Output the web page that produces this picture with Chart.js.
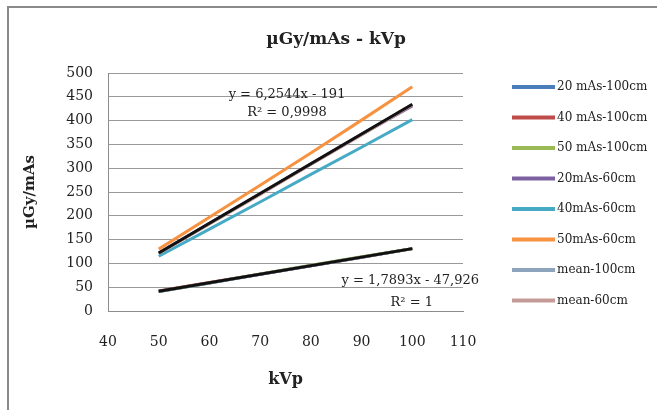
<!DOCTYPE html>
<html>
<head>
<meta charset="utf-8">
<script src="https://cdn.jsdelivr.net/npm/chart.js@4/dist/chart.umd.min.js"></script>
<style>
  html, body { margin: 0; background: #fff; }
  canvas { display: block; }
</style>
</head>
<body>
<canvas id="chart" width="657" height="410"></canvas>
<script>
// kVp settings measured at both distances
const kvp = [50, 60, 70, 80, 90, 100];

const mAs20_100 = [41, 59, 77, 95, 113, 131];
const mAs40_100 = [42, 60, 77, 95, 113, 131];
const mAs50_100 = [41, 59, 78, 96, 114, 131];
const mAs20_60 = [122, 184, 246, 309, 371, 431];
const mAs40_60 = [115, 172, 229, 287, 344, 402];
const mAs50_60 = [130, 197, 264, 332, 401, 471];
const mean100 = [41, 59, 77, 95, 113, 131];
const mean60 = [121, 183, 245, 308, 370, 433];

const seriesLabels = ['20 mAs-100cm', '40 mAs-100cm', '50 mAs-100cm', '20mAs-60cm',
  '40mAs-60cm', '50mAs-60cm', 'mean-100cm', 'mean-60cm'];
const seriesColors = ['#4a7ebb', '#be4b48', '#98b954', '#7d60a0',
  '#46aac5', '#f69240', '#8ea3bc', '#c59b98'];

// Excel linear trendlines, drawn end to end
const trendX = [50, 100];
const trend60 = [121.7, 434.4];
const trend100 = [41.5, 131];

const eq60 = ['y = 6,2544x - 191', 'R² = 0,9998'];
const eq100 = ['y = 1,7893x - 47,926', 'R² = 1'];

const SERIF = '"DejaVu Serif", "Liberation Serif", serif';
const pts = (xs, ys) => xs.map((x, i) => ({ x, y: ys[i] }));

const series = [mAs20_100, mAs40_100, mAs50_100, mAs20_60, mAs40_60, mAs50_60, mean100, mean60]
  .map((vals, i) => ({
    label: seriesLabels[i],
    data: pts(kvp, vals),
    borderColor: seriesColors[i], backgroundColor: seriesColors[i],
    borderWidth: 3, pointRadius: 0, showLine: true, order: 8 - i
  }));

const trends = [trend60, trend100].map(vals => ({
  label: 'trend', trend: true,
  data: pts(trendX, vals),
  borderColor: '#111', backgroundColor: '#111',
  borderWidth: 3, pointRadius: 0, showLine: true, order: 0
}));

// frame, title, side legend and trendline equations
const decor = {
  id: 'decor',
  beforeDraw(chart) {
    const ctx = chart.ctx;
    ctx.save();
    ctx.fillStyle = '#fff';
    ctx.fillRect(0, 0, chart.width, chart.height);
    ctx.strokeStyle = '#8a8a8a';
    ctx.lineWidth = 2;
    ctx.beginPath();
    ctx.moveTo(8, chart.height); ctx.lineTo(8, 7); ctx.lineTo(chart.width, 7);
    ctx.stroke();
    ctx.fillStyle = '#222';
    ctx.font = 'bold 17px ' + SERIF;
    ctx.textAlign = 'center';
    ctx.textBaseline = 'middle';
    ctx.fillText('µGy/mAs - kVp', 336, 40);
    ctx.restore();
  },
  afterDatasetsDraw(chart) {
    const { ctx, scales: { x, y } } = chart;
    ctx.save();
    ctx.fillStyle = '#222';
    ctx.font = '13px ' + SERIF;
    ctx.textAlign = 'center';
    ctx.textBaseline = 'middle';
    ctx.fillText(eq60[0], x.getPixelForValue(75.3), y.getPixelForValue(454));
    ctx.fillText(eq60[1], x.getPixelForValue(75.3), y.getPixelForValue(416));
    ctx.fillText(eq100[0], x.getPixelForValue(99.6), y.getPixelForValue(63));
    ctx.fillText(eq100[1], x.getPixelForValue(99.9), y.getPixelForValue(17));

    ctx.textAlign = 'left';
    ctx.font = '12px ' + SERIF;
    chart.data.datasets.filter(d => !d.trend).forEach((d, i) => {
      const ly = 87 + i * 30.5;
      ctx.strokeStyle = d.borderColor;
      ctx.lineWidth = 4;
      ctx.beginPath(); ctx.moveTo(512, ly); ctx.lineTo(555, ly); ctx.stroke();
      ctx.fillText(d.label, 557, ly);
    });
    ctx.restore();
  }
};

new Chart(document.getElementById('chart'), {
  type: 'scatter',
  data: { datasets: [...series, ...trends] },
  plugins: [decor],
  options: {
    responsive: false, animation: false,
    layout: { padding: { left: 12, top: 73, right: 194, bottom: 0 } },
    plugins: { legend: { display: false }, tooltip: { enabled: false } },
    scales: {
      x: {
        min: 40, max: 110,
        afterFit: s => { s.height = 99; },
        grid: { display: false, drawTicks: false },
        border: { display: true, color: '#8c8c8c' },
        ticks: { stepSize: 10, padding: 23, color: '#222', font: { family: SERIF, size: 14 } },
        title: { display: true, text: 'kVp', color: '#222', padding: { top: 0, bottom: 21 },
          font: { family: SERIF, size: 16, weight: 'bold' } }
      },
      y: {
        min: 0, max: 500,
        afterFit: s => { s.width = 96; },
        grid: { color: '#999', drawTicks: false },
        border: { display: true, color: '#8c8c8c' },
        ticks: { stepSize: 50, padding: 15, color: '#222', font: { family: SERIF, size: 14 } },
        title: { display: true, text: 'µGy/mAs', color: '#222', padding: { top: 9, bottom: 0 },
          font: { family: SERIF, size: 15, weight: 'bold' } }
      }
    }
  }
});
</script>
</body>
</html>
